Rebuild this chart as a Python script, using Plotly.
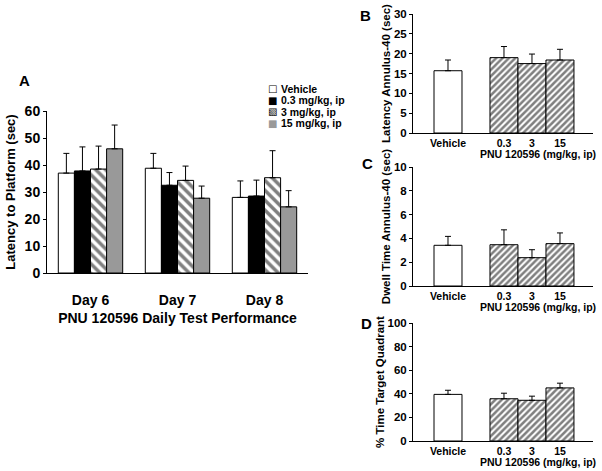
import plotly.graph_objects as go

W, H = 602, 471
FONT = "Liberation Sans, Arial, sans-serif"

# panel A: latency to platform (sec)
days = ["Day 6", "Day 7", "Day 8"]
groups = ["Vehicle", "0.3 mg/kg, ip", "3 mg/kg, ip", "15 mg/kg, ip"]
latency = [
    [37.0, 38.8, 28.0],
    [37.8, 32.5, 28.5],
    [38.5, 34.3, 35.3],
    [46.0, 27.7, 24.5],
]
latency_sem = [
    [7.3, 5.5, 6.1],
    [8.9, 4.7, 5.9],
    [8.5, 5.3, 10.0],
    [8.8, 4.5, 6.0],
]

# panels B-D: doses (blank slot keeps the gap after Vehicle)
doses = ["Vehicle", " ", "0.3", "3", "15"]
annulus_latency = [15.7, None, 19.0, 17.5, 18.4]
annulus_latency_sem = [2.7, None, 2.8, 2.4, 2.7]
dwell_time = [3.42, None, 3.47, 2.38, 3.56]
dwell_time_sem = [0.75, None, 1.25, 0.67, 0.9]
target_quadrant = [39.5, None, 35.8, 34.5, 45.0]
target_quadrant_sem = [3.5, None, 4.7, 3.5, 4.0]

fig = go.Figure()

# --- panel A ---
styles = [
    dict(color="white", pattern=dict(shape="")),
    dict(color="black", pattern=dict(shape="")),
    dict(color="white", pattern=dict(shape="\\", fgcolor="black", bgcolor="white", size=7, solidity=0.5)),
    dict(color="#999999", pattern=dict(shape="")),
]
for name, vals, sem, st in zip(groups, latency, latency_sem, styles):
    fig.add_trace(go.Bar(
        x=days, y=vals, name=name, showlegend=False,
        marker=dict(color=st["color"], pattern=st["pattern"], line=dict(color="black", width=1)),
        error_y=dict(type="data", symmetric=False, array=sem, arrayminus=[0] * len(sem),
                     color="black", thickness=1, width=3),
        xaxis="x", yaxis="y",
    ))


def dose_bar(vals, sem, ax):
    return go.Bar(
        x=doses, y=vals, width=1, showlegend=False,
        marker=dict(
            color="white",
            line=dict(color="black", width=1),
            pattern=dict(shape=["", "", "/", "/", "/"], fgcolor="black", bgcolor="white",
                         size=4.5, solidity=0.55),
        ),
        error_y=dict(type="data", symmetric=False, array=sem, arrayminus=[0] * len(sem),
                     color="black", thickness=1, width=3),
        xaxis="x" + ax, yaxis="y" + ax,
    )


fig.add_trace(dose_bar(annulus_latency, annulus_latency_sem, "2"))
fig.add_trace(dose_bar(dwell_time, dwell_time_sem, "3"))
fig.add_trace(dose_bar(target_quadrant, target_quadrant_sem, "4"))


def px_x(p):
    return p / W


def px_y(p):
    return 1 - p / H


axis_common = dict(showline=True, linecolor="black", linewidth=1, showgrid=False,
                   zeroline=False, mirror=False, automargin=False)
bold = dict(family=FONT, color="black", weight="bold")

fig.update_layout(
    width=W, height=H,
    margin=dict(l=0, r=0, t=0, b=0),
    paper_bgcolor="white", plot_bgcolor="white",
    font=dict(family=FONT, color="black", weight="bold"),
    barmode="group", bargap=0.26, bargroupgap=0,
    showlegend=False,
    xaxis=dict(domain=[px_x(47), px_x(308)], anchor="y", ticks="", tickfont=dict(size=14, **bold),
               ticklabelstandoff=14,
               title=dict(text="PNU 120596 Daily Test Performance", font=dict(size=14, **bold), standoff=6),
               **axis_common),
    yaxis=dict(domain=[px_y(273), px_y(111)], anchor="x", range=[0, 60], dtick=10,
               ticks="outside", ticklen=3, tickcolor="black", tickfont=dict(size=14, **bold),
               title=dict(text="Latency to Platform (sec)", font=dict(size=13, **bold), standoff=6),
               **axis_common),
)

# legend for panel A, drawn as text rows to keep its tight spacing
swatches = [("\u25a1", "black"), ("\u25a0", "black"), ("\u25a7", "black"), ("\u25a0", "#999999")]
for i, (name, (sym, col)) in enumerate(zip(groups, swatches)):
    row_y = px_y(89 + i * 11.4)
    fig.add_annotation(text=sym, xref="paper", yref="paper", x=px_x(272), y=row_y,
                       xanchor="center", yanchor="middle", showarrow=False,
                       font=dict(family="DejaVu Sans", size=10, color=col))
    fig.add_annotation(text=name, xref="paper", yref="paper", x=px_x(279), y=row_y,
                       xanchor="left", yanchor="middle", showarrow=False,
                       font=dict(size=10.5, **bold))

panels = [
    ("2", 14, 133, [0, 30], 5, "Latency Annulus-40 (sec)"),
    ("3", 167, 286, [0, 10], 2, "Dwell Time Annulus-40 (sec)"),
    ("4", 323, 441, [0, 100], 20, "% Time Target Quadrant"),
]
for ax, top, bot, yr, dt, ytitle in panels:
    fig.update_layout({
        "xaxis" + ax: dict(domain=[px_x(413), px_x(593)], anchor="y" + ax, range=[-1.25, 5.18],
                           ticks="", tickfont=dict(size=10.5, **bold), ticklabelstandoff=0,
                           **axis_common),
        "yaxis" + ax: dict(domain=[px_y(bot), px_y(top)], anchor="x" + ax, range=yr, dtick=dt,
                           ticks="outside", ticklen=3, tickcolor="black",
                           tickfont=dict(size=11.5, **bold),
                           title=dict(text=ytitle, font=dict(size=11.5, **bold), standoff=0),
                           **axis_common),
    })
    fig.add_annotation(text="PNU 120596 (mg/kg, ip)", xref="paper", yref="paper",
                       x=px_x(538), y=px_y(bot + 21), xanchor="center", yanchor="middle",
                       showarrow=False, font=dict(size=10.5, **bold))

for letter, lx, ly in [("A", 24, 81), ("B", 365, 16), ("C", 367, 164), ("D", 366, 323)]:
    fig.add_annotation(text=letter, xref="paper", yref="paper", x=px_x(lx), y=px_y(ly),
                       xanchor="center", yanchor="middle", showarrow=False,
                       font=dict(size=15, **bold))

fig.write_html("out.html", config={"displayModeBar": False},
               post_script="document.body.style.margin='0px';")
